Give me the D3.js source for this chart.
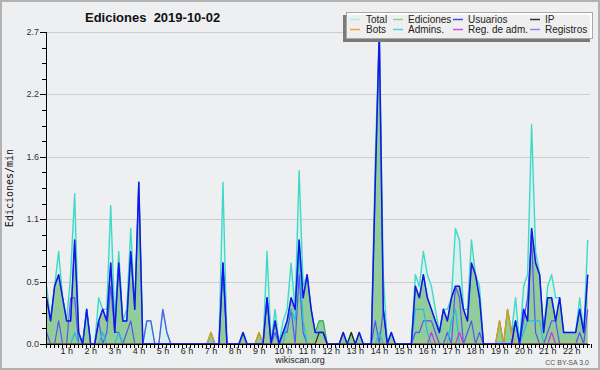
<!DOCTYPE html>
<html><head><meta charset="utf-8">
<script src="https://cdn.jsdelivr.net/npm/d3@7"></script>
<style>
body{margin:0;background:#eeeff1}
svg{display:block}
text{font-family:"Liberation Sans",Arial,sans-serif}
</style>
</head><body>
<svg id="chart" width="600" height="370"></svg>
<script>
// ---- DATA (edits per minute, one value per 10-minute step starting 00:00) ----
const stepMinutes = 10;
const title = "Ediciones  2019-10-02";
const yTitle = "Ediciones/min";
const yTickValues = [0, 0.54, 1.08, 1.62, 2.16, 2.7];
const yTickLabels = ["0.0", "0.5", "1.1", "1.6", "2.2", "2.7"];
const hourTicks = [1,2,3,4,5,6,7,8,9,10,11,12,13,14,15,16,17,18,19,20,21,22];
const hourLabels = hourTicks.map(h => h + " h");

const total = [
 0.5,0.2,0.5,0.8,0.4,0.2,  0.6,1.3,0.1,0,0.3,0,  0,0.4,0.3,0.3,1.2,0.2,  0.8,0.2,0.3,1.0,0.3,1.4,
 0,0.2,0.2,0,0,0.3,  0.1,0,0,0,0,0,  0,0,0,0,0,0.1,  0,0,1.4,0,0,0,
 0,0.1,0,0,0,0.1,  0,0.8,0,0.3,0,0.2,  0.3,0.7,0.3,1.5,0.5,0.6,  0.3,0.1,0.2,0.2,0,0,
 0,0,0.1,0,0.1,0,  0.1,0,0,0,1.6,2.7,  0.6,0,0.1,0,0,0,  0,0,0.6,0.5,0.8,0.6,
 0.5,0.3,0.1,0.3,0.3,0.4,  1.0,0.9,0.3,0.3,0.9,0.6,  0.5,0,0,0,0,0.2,  0,0.3,0.1,0.4,0,0.5,
 0.6,1.9,0.8,0.6,0.1,0.5,  0.6,0.4,0.4,0.1,0.1,0.1,  0.1,0.4,0.1,0.9
];
const ediciones = [
 0.4,0.2,0.5,0.6,0.4,0.2,  0.2,0.9,0.1,0,0.3,0,  0,0.2,0.3,0.2,0.7,0.1,  0.7,0.2,0.2,0.8,0.3,1.4,
 0,0,0,0,0,0,  0,0,0,0,0,0,  0,0,0,0,0,0.1,  0,0,0.7,0,0,0,
 0,0.1,0,0,0,0.1,  0,0.4,0,0.2,0,0.1,  0.2,0.4,0.3,0.9,0.4,0.6,  0.3,0.1,0.2,0.2,0,0,
 0,0,0.1,0,0.1,0,  0.1,0,0,0,1.4,2.7,  0.3,0,0.1,0,0,0,  0,0,0.5,0.4,0.6,0.4,
 0.3,0.2,0.1,0.3,0.2,0.4,  0.5,0.5,0.3,0.2,0.7,0.6,  0.4,0,0,0,0,0.2,  0,0.3,0.1,0.2,0,0.3,
 0.2,1.0,0.7,0.6,0.1,0.4,  0.4,0.2,0.4,0.1,0.1,0.1,  0.1,0.3,0.1,0.6
];
const usuarios = [
 0.4,0.2,0.5,0.6,0.4,0.2,  0.2,0.9,0.1,0,0.3,0,  0,0.2,0.3,0.2,0.7,0.1,  0.7,0.2,0.2,0.8,0.3,1.4,
 0,0,0,0,0,0,  0,0,0,0,0,0,  0,0,0,0,0,0,  0,0,0.7,0,0,0,
 0,0.1,0,0,0,0,  0,0.4,0,0.2,0,0.1,  0.2,0.4,0.3,0.9,0.4,0.6,  0.3,0.1,0.1,0.1,0,0,
 0,0,0.1,0,0,0,  0.1,0,0,0,1.4,2.7,  0.3,0,0.1,0,0,0,  0,0,0.5,0.4,0.6,0.4,
 0.3,0.2,0.1,0.3,0.2,0.4,  0.5,0.5,0.3,0.2,0.7,0.6,  0.4,0,0,0,0,0,  0,0,0,0.2,0,0.3,
 0.2,1.0,0.7,0.6,0.1,0.4,  0.4,0.2,0.4,0.1,0.1,0.1,  0.1,0.3,0.1,0.6
];
const ip = [
 0,0,0,0,0,0,  0,0,0,0,0,0,  0,0,0,0,0,0,  0,0,0,0,0,0,
 0,0,0,0,0,0,  0,0,0,0,0,0,  0,0,0,0,0,0,  0,0,0,0,0,0,
 0,0,0,0,0,0,  0,0,0,0,0,0,  0,0,0,0,0,0,  0,0,0.1,0.1,0,0,
 0,0,0,0,0.1,0,  0,0,0,0,0,0,  0,0,0,0,0,0,  0,0,0,0,0,0,
 0,0,0,0,0,0,  0,0,0,0,0,0,  0,0,0,0,0,0,  0,0,0,0,0,0,
 0,0,0,0,0,0,  0,0,0,0,0,0,  0,0,0,0
];
const bots = [
 0,0,0,0,0,0,  0,0,0,0,0,0,  0,0,0,0,0,0,  0,0,0,0,0,0,
 0,0,0,0,0,0,  0,0,0,0,0,0,  0,0,0,0,0,0.1,  0,0,0,0,0,0,
 0,0,0,0,0,0.1,  0,0,0,0,0,0,  0,0,0,0,0,0,  0,0,0,0,0,0,
 0,0,0,0,0,0,  0,0,0,0,0,0,  0,0,0,0,0,0,  0,0,0,0,0,0,
 0,0,0,0,0,0,  0,0,0,0,0,0,  0,0,0,0,0,0.2,  0,0.3,0.1,0,0,0,
 0,0,0,0,0,0,  0,0,0,0,0,0,  0,0,0,0
];
const admins = [
 0,0,0,0,0,0,  0,0.1,0,0,0.3,0,  0,0,0.1,0,0,0,  0.1,0,0,0,0,0,
 0,0,0,0,0,0,  0,0,0,0,0,0,  0,0,0,0,0,0,  0,0,0,0,0,0,
 0,0.1,0,0,0,0,  0,0,0,0.2,0,0,  0.2,0.3,0.2,0.8,0.2,0,  0,0,0,0,0,0,
 0,0,0,0,0,0,  0,0,0,0,0,0.1,  0,0,0,0,0,0,  0,0,0.3,0.3,0.3,0.1,
 0,0,0,0,0,0.2,  0.3,0,0,0,0,0,  0,0,0,0,0,0,  0,0,0,0,0,0.1,
 0.2,0.2,0.2,0.2,0,0,  0,0,0,0,0,0,  0,0,0,0
];
const regAdm = [
 0,0,0,0,0,0,  0,0,0,0,0,0,  0,0,0,0,0,0,  0,0,0,0,0,0,
 0,0,0,0,0,0,  0,0,0,0,0,0,  0,0,0,0,0,0,  0,0,0,0,0,0,
 0,0,0,0,0,0,  0,0,0,0,0,0,  0,0,0,0,0,0,  0,0,0,0,0,0,
 0,0,0,0,0,0,  0,0,0,0,0,0,  0,0,0,0,0,0,  0,0,0,0,0,0,
 0.1,0,0,0,0,0,  0,0.1,0,0,0,0,  0,0,0,0,0,0,  0,0,0,0,0,0,
 0,0,0,0,0,0,  0.1,0,0,0,0,0,  0,0,0,0
];
const registros = [
 0.1,0,0,0.2,0,0,  0.4,0.4,0,0,0,0,  0,0.2,0,0.1,0.5,0.1,  0.1,0,0.1,0.2,0,0,
 0,0.2,0.2,0,0,0.3,  0.1,0,0,0,0,0,  0,0,0,0,0,0,  0,0,0.7,0,0,0,
 0,0,0,0,0,0,  0,0.4,0,0.1,0,0.1,  0.1,0.3,0,0.6,0.1,0,  0,0,0,0,0,0,
 0,0,0,0,0,0,  0,0,0,0,0.2,0,  0.3,0,0,0,0,0,  0,0,0.1,0.1,0.2,0.2,
 0.2,0.1,0,0,0.1,0,  0.5,0.4,0,0.1,0.2,0,  0.1,0,0,0,0,0,  0,0,0,0.2,0,0.2,
 0.4,0.9,0.1,0,0,0.1,  0.2,0.2,0,0,0,0,  0,0.1,0,0.3
];

const legendNames = ["Total","Ediciones","Usuarios","IP","Bots","Admins.","Reg. de adm.","Registros"];
const legendColors = ["#b2ebe3","#8fd18f","#4848e6","#333333","#f2a23a","#4cd0e4","#d24ee0","#8888f2"];

// ---- CHART ----
const svg = d3.select("#chart");
const W = 600, H = 370;
const x = d3.scaleLinear().domain([0, 22.62]).range([46, 590]);
const y = d3.scaleLinear().domain([0, 2.7]).range([344, 32]);
const tOf = i => (i * stepMinutes + 1.5) / 60;

svg.append("rect").attr("x",1).attr("y",1).attr("width",W-2).attr("height",H-2)
  .attr("fill","#eeeff1").attr("stroke","#b2b2b2").attr("stroke-width",2);

svg.append("defs").append("clipPath").attr("id","plot")
  .append("rect").attr("x",46).attr("y",20).attr("width",545).attr("height",325);

// grid
svg.append("g").selectAll("line").data(yTickValues.slice(1)).join("line")
  .attr("x1",46).attr("x2",590).attr("y1",d=>Math.round(y(d))+0.5).attr("y2",d=>Math.round(y(d))+0.5)
  .attr("stroke","#cdcdcf").attr("stroke-width",1);

const plot = svg.append("g").attr("clip-path","url(#plot)");
const area = arr => d3.area().x((d,i)=>x(tOf(i))).y0(y(0)).y1(d=>y(d))(arr);
const line = arr => d3.line().x((d,i)=>x(tOf(i))).y(d=>y(d))(arr);

plot.append("path").attr("d",area(total)).attr("fill","#d9f1ed");
plot.append("path").attr("d",area(ediciones)).attr("fill","#93cc9b");

const lines = [
  [total,"#3fd9c9",1.4],
  [ediciones,"#3fae4a",1.1],
  [registros,"#5656ee",1.2],
  [admins,"#1fbfe0",1.2],
  [regAdm,"#d030e0",1.2],
  [bots,"#e39a1c",1.3],
  [ip,"#2a2a2a",1.2],
  [usuarios,"#1414f2",1.5]
];
lines.forEach(([arr,c,w]) => {
  plot.append("path").attr("d",line(arr)).attr("fill","none")
    .attr("stroke",c).attr("stroke-width",w).attr("stroke-linejoin","round");
});

// y axis
const yAxis = svg.append("g");
yAxis.append("line").attr("x1",46.5).attr("x2",46.5).attr("y1",32).attr("y2",344.5).attr("stroke","#000");
const minor = d3.range(0, 2.7001, 0.135);
yAxis.selectAll(".mn").data(minor).join("line")
  .attr("x1",42).attr("x2",46).attr("y1",d=>Math.round(y(d))+0.5).attr("y2",d=>Math.round(y(d))+0.5)
  .attr("stroke","#000");
yAxis.selectAll(".mj").data(yTickValues).join("line")
  .attr("x1",40).attr("x2",46).attr("y1",d=>Math.round(y(d))+0.5).attr("y2",d=>Math.round(y(d))+0.5)
  .attr("stroke","#000");
yAxis.selectAll("text").data(yTickValues).join("text")
  .attr("x",39).attr("y",d=>y(d)+3).attr("text-anchor","end")
  .attr("font-size",9).attr("fill","#333").text((d,i)=>yTickLabels[i]);

svg.append("text").attr("transform","translate(13,188) rotate(-90)")
  .attr("text-anchor","middle").attr("font-size",10)
  .style("font-family","'DejaVu Sans Mono',monospace").attr("fill","#111").text(yTitle);

// x axis
const xAxis = svg.append("g");
xAxis.append("line").attr("x1",46).attr("x2",590).attr("y1",344.5).attr("y2",344.5).attr("stroke","#000");
const xTicks = d3.range(0, 137).map(i => i * stepMinutes / 60);
xAxis.selectAll(".xt").data(xTicks).join("line")
  .attr("x1",d=>Math.round(x(d))+0.5).attr("x2",d=>Math.round(x(d))+0.5)
  .attr("y1",344).attr("y2",348).attr("stroke","#000");
xAxis.selectAll("text").data(hourTicks).join("text")
  .attr("x",d=>x(d)-3.3).attr("y",353.5).attr("text-anchor","middle")
  .attr("font-size",9).attr("fill","#222").text((d,i)=>hourLabels[i]);

svg.append("text").attr("x",300).attr("y",363).attr("text-anchor","middle")
  .attr("font-size",9).attr("fill","#222").text("wikiscan.org");
svg.append("text").attr("x",589).attr("y",365).attr("text-anchor","end")
  .attr("font-size",7).attr("fill","#555").text("CC BY-SA 3.0");

// title
svg.append("text").attr("x",85).attr("y",22).attr("font-size",13).attr("font-weight","bold")
  .style("white-space","pre").attr("fill","#111").text(title);

// legend
const lg = svg.append("g");
lg.append("rect").attr("x",343).attr("y",15).attr("width",247).attr("height",27).attr("fill","#7a7a7a");
lg.append("rect").attr("x",346.5).attr("y",12.5).attr("width",246).attr("height",26)
  .attr("fill","#ffffff").attr("fill-opacity",0.88).attr("stroke","#a9a9a9");
const colSw = [350, 393, 453, 530], colTx = [366, 408, 468, 545];
legendNames.forEach((n,k) => {
  const col = k % 4, row = Math.floor(k / 4);
  const cy = 19.5 + row * 10;
  lg.append("line").attr("x1",colSw[col]).attr("x2",colSw[col]+10).attr("y1",cy).attr("y2",cy)
    .attr("stroke",legendColors[k]).attr("stroke-width",1.5);
  lg.append("text").attr("x",colTx[col]).attr("y",cy+3.5).attr("font-size",10)
    .attr("fill","#222").text(n);
});
</script>
</body></html>
